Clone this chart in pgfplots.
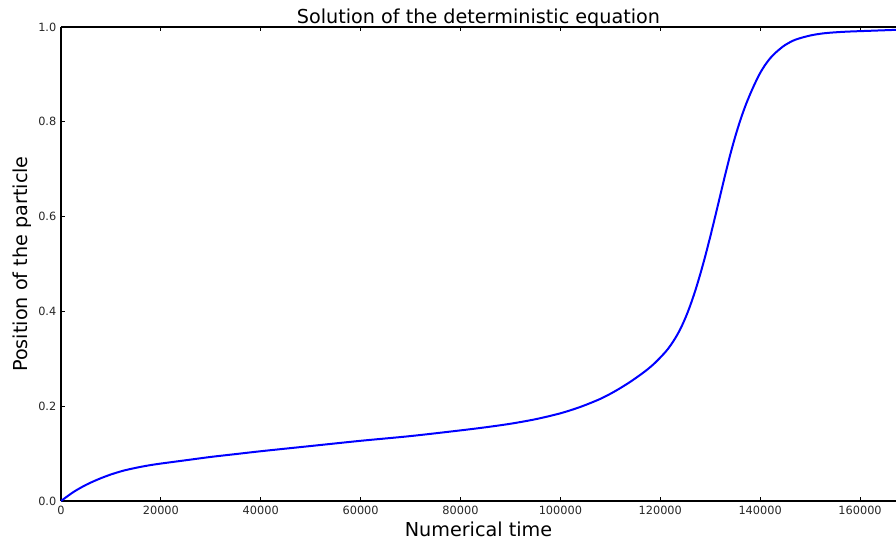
\documentclass[border=0pt]{standalone}
\usepackage{pgfplots}
\pgfplotsset{compat=1.18}
\usepackage{fontspec}
\setmainfont{DejaVu Sans}
\begin{document}
\begin{tikzpicture}
\begin{axis}[
  scale only axis,
  width=626.25pt, height=355.5pt,
  xmin=0, xmax=167200, ymin=0, ymax=1.0,
  axis x line*=box, axis y line*=left,
  axis line style={line width=0.8pt, black},
  xtick={0,20000,40000,60000,80000,100000,120000,140000,160000},
  xticklabels={0,20000,40000,60000,80000,100000,120000,140000,160000},
  ytick={0,0.2,0.4,0.6,0.8,1.0},
  yticklabels={0.0,0.2,0.4,0.6,0.8,1.0},
  scaled x ticks=false,
  tick align=inside,
  major tick length=3pt,
  tick style={black, line width=0.6pt},
  xtick pos=both,
  ytick pos=left,
  ticklabel style={font=\fontsize{8.5}{10}\selectfont, text=black!85},
  title={Solution of the deterministic equation},
  title style={font=\fontsize{14.4}{16}\selectfont, at={(axis description cs:0.5,1.0073)}, anchor=base, yshift=-6pt},
  xlabel={Numerical time},
  ylabel={Position of the particle},
  label style={font=\fontsize{14.4}{16}\selectfont},
  xlabel style={at={(axis description cs:0.5,-0.0759)}, anchor=base},
  ylabel style={at={(axis description cs:-0.0407,0.5)}, anchor=base, rotate=0},
]
\addplot[blue, line width=1.5pt, smooth] coordinates {
(0,0.0)
(2500,0.019)
(5000,0.034)
(7500,0.046)
(10000,0.056)
(12500,0.064)
(15000,0.070)
(17500,0.075)
(20000,0.079)
(25000,0.086)
(30000,0.093)
(35000,0.099)
(40000,0.105)
(50000,0.116)
(60000,0.127)
(70000,0.137)
(80000,0.149)
(85000,0.1555)
(90000,0.1630)
(95000,0.1725)
(100000,0.1850)
(104000,0.1985)
(108000,0.2155)
(111000,0.2320)
(114000,0.2515)
(117000,0.2740)
(119000,0.292)
(121000,0.314)
(122000,0.3275)
(123000,0.3435)
(124000,0.3625)
(125000,0.3855)
(126000,0.4125)
(127000,0.4435)
(128000,0.4785)
(129000,0.5165)
(130000,0.5575)
(131000,0.6005)
(132000,0.6445)
(133000,0.6885)
(134000,0.7305)
(135000,0.7685)
(136000,0.8025)
(137000,0.8325)
(138000,0.8585)
(139000,0.882)
(140000,0.903)
(141000,0.920)
(142000,0.934)
(143000,0.945)
(144000,0.954)
(145000,0.962)
(147000,0.973)
(150000,0.982)
(153000,0.987)
(157000,0.990)
(162000,0.992)
(167200,0.994)
};
\end{axis}
\pgfresetboundingbox
\path[use as bounding box] ([shift={(-45.75pt,-34.5pt)}]current axis.south west) rectangle ([shift={(0pt,20.25pt)}]current axis.north east);
\end{tikzpicture}
\end{document}
